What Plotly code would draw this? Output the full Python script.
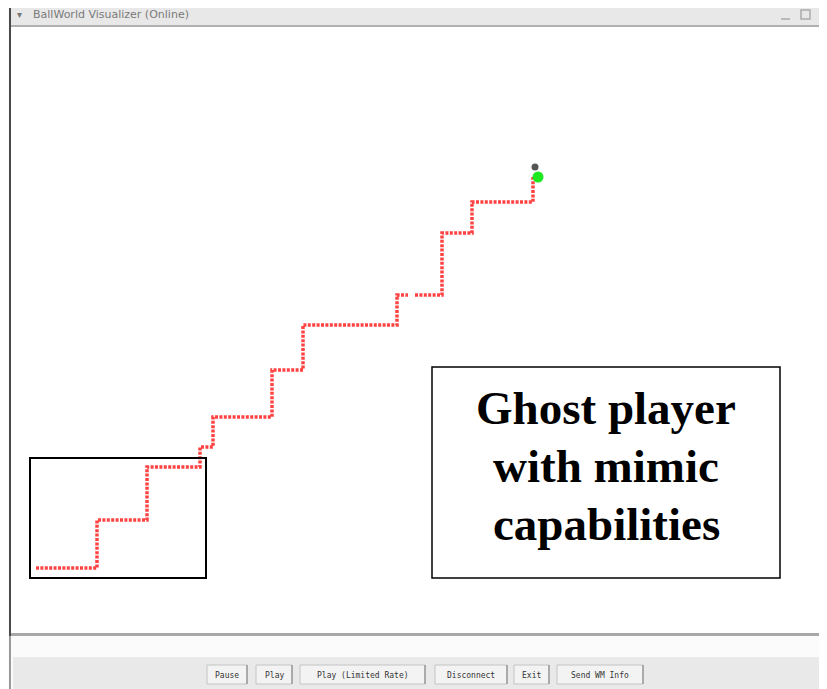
import plotly.graph_objects as go

# Trajectory of the ghost player (screen coordinates, corners of the staircase path)
path_x = [36, 97, 97, 147, 147, 200, 200, 213, 213, 272, 272, 303, 303, 397, 397, 408,
          None, 415, 442, 442, 472, 472, 533, 533]
path_y = [568, 568, 520, 520, 467, 467, 447, 447, 417, 417, 370, 370, 325, 325, 295, 295,
          None, 295, 295, 233, 233, 202, 202, 177]

# Players
ball_x = [535]
ball_y = [167]
player_x = [538]
player_y = [177]

# Buttons at the bottom
button_labels = ["Pause", "Play", "Play (Limited Rate)", "Disconnect", "Exit", "Send WM Info"]
button_x0 = [207, 256, 300, 435, 514, 557]
button_x1 = [247, 292, 425, 507, 549, 643]

title_text = "BallWorld Visualizer (Online)"
box_lines = ["Ghost player", "with mimic", "capabilities"]

W, H = 827, 689
OFF = 8  # page margin of the html body

fig = go.Figure()

fig.add_trace(go.Scatter(
    x=path_x, y=path_y, mode="lines",
    line=dict(color="rgba(255,45,45,0.9)", width=3.5, dash="3px,1.4px"),
    hoverinfo="skip", showlegend=False, connectgaps=False))

fig.add_trace(go.Scatter(
    x=ball_x, y=ball_y, mode="markers",
    marker=dict(color="#555555", size=7), showlegend=False, hoverinfo="skip"))
fig.add_trace(go.Scatter(
    x=player_x, y=player_y, mode="markers",
    marker=dict(color="#1ee81e", size=11), showlegend=False, hoverinfo="skip"))

shapes = []
def rect(x0, y0, x1, y1, fill=None, line=None, lw=0, layer="below"):
    d = dict(type="rect", xref="x", yref="y", x0=x0, y0=y0, x1=x1, y1=y1,
             layer=layer, line=dict(width=lw, color=line if line else "rgba(0,0,0,0)"))
    if fill:
        d["fillcolor"] = fill
    shapes.append(d)

# window chrome
rect(9, 0, W, 3, fill="#8a8a8a")                 # top edge
rect(11, 3, W, 25, fill="#e8e8e8")               # title bar
rect(11, 25, 821, 27, fill="#b0b0b0")            # title bar bottom line
rect(11, 27, 820, 633, fill="#ffffff")           # canvas
rect(820, 25, 823, 636, fill="#a8a8a8")          # canvas right border
rect(11, 633, 823, 636, fill="#a8a8a8")          # canvas bottom border
rect(823, 25, W, 689, fill="#f2f2f2")
rect(13, 657, W, 689, fill="#e9e9e9")            # bottom panel
rect(9, 0, 11, 636, fill="#4a4a4a")              # left dark edge
rect(9, 636, 11, 689, fill="#9a9a9a")

# buttons
for x0, x1 in zip(button_x0, button_x1):
    rect(x0, 665, x1, 684, fill="#f3f3f3", line="#c4c4c4", lw=1)
    shapes.append(dict(type="line", x0=x1, x1=x1, y0=665, y1=684, xref="x", yref="y",
                       layer="below", line=dict(color="#8c8c8c", width=1.2)))

# annotation boxes
rect(30, 458, 206, 578, line="#000000", lw=2, layer="above")
rect(432, 367, 780, 578, fill="#ffffff", line="#000000", lw=1.5, layer="below")

annotations = []
annotations.append(dict(x=19, y=14, text="▾", showarrow=False, xref="x", yref="y",
                        font=dict(size=10, color="#777777"), xanchor="center", yanchor="middle"))
annotations.append(dict(x=31, y=14, text=title_text, showarrow=False, xref="x", yref="y",
                        font=dict(size=11, color="#7a7a7a", family="DejaVu Sans"),
                        xanchor="left", yanchor="middle"))
shapes.append(dict(type="line", x0=781, x1=790, y0=19, y1=19, xref="x", yref="y",
                   line=dict(color="#aaaaaa", width=1.5)))
shapes.append(dict(type="rect", x0=801, x1=810, y0=10, y1=19, xref="x", yref="y",
                   line=dict(color="#aaaaaa", width=1.5)))
shapes.append(dict(type="line", x0=820, x1=826, y0=10, y1=19, xref="x", yref="y",
                   line=dict(color="#aaaaaa", width=1.2)))
shapes.append(dict(type="line", x0=820, x1=826, y0=19, y1=10, xref="x", yref="y",
                   line=dict(color="#aaaaaa", width=1.2)))

for lab, x0, x1 in zip(button_labels, button_x0, button_x1):
    annotations.append(dict(x=(x0 + x1) / 2, y=675, text=lab, showarrow=False,
                            xref="x", yref="y", xanchor="center", yanchor="middle",
                            font=dict(size=8, color="#333333", family="DejaVu Sans Mono")))

for i, line in enumerate(box_lines):
    annotations.append(dict(x=606, y=408 + 58 * i, text="<b>%s</b>" % line, showarrow=False,
                            xref="x", yref="y", xanchor="center", yanchor="middle",
                            font=dict(size=47, color="#000000", family="Liberation Serif")))

fig.update_layout(
    width=W - OFF, height=H - OFF,
    margin=dict(l=0, r=0, t=0, b=0),
    paper_bgcolor="#fbfbfb", plot_bgcolor="#fbfbfb",
    xaxis=dict(range=[OFF, W], visible=False, fixedrange=True),
    yaxis=dict(range=[H, OFF], visible=False, fixedrange=True),
    shapes=shapes, annotations=annotations, showlegend=False,
)

fig.write_html("out.html")
